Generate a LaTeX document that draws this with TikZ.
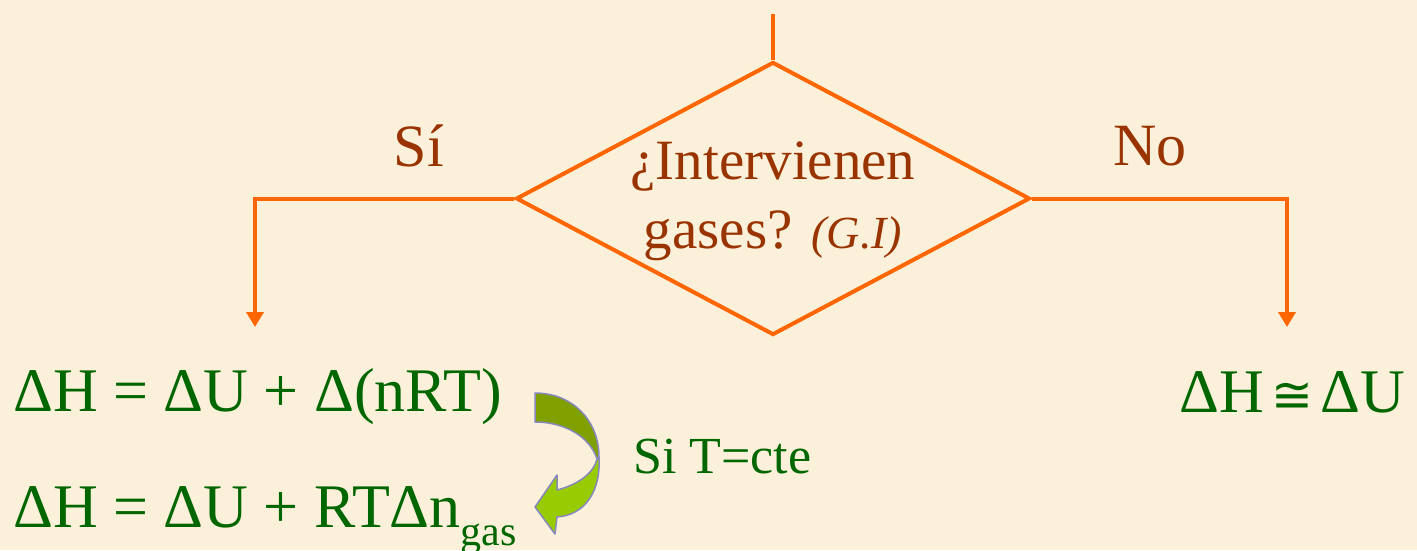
\documentclass[tikz,border=0pt]{standalone}
\usepackage{fontspec}
\setmainfont{Liberation Serif}
\newfontfamily\congfont{DejaVu Sans}
\usetikzlibrary{arrows.meta,shapes.geometric}
\definecolor{bg}{HTML}{FBF0D9}
\definecolor{flow}{HTML}{FF6600}
\definecolor{brownt}{HTML}{993300}
\definecolor{eqgreen}{HTML}{006600}
\definecolor{darkarr}{HTML}{80A000}
\definecolor{lightarr}{HTML}{99CC00}
\definecolor{arredge}{HTML}{8888C0}
\tikzset{
  flowline/.style={draw=flow, line width=4pt},
  flowarrow/.style={flowline, -{Triangle[width=17pt,length=15pt]}},
  decision/.style={diamond, draw=flow, line width=4pt, minimum width=514pt, minimum height=273pt, inner sep=0pt, shape aspect=1.88},
  brownlabel/.style={text=brownt, font=\fontsize{60}{60}\selectfont, inner sep=0pt},
  eqtext/.style={text=eqgreen, font=\fontsize{62}{62}\selectfont, inner sep=0pt},
  arrpart/.style={draw=arredge, line width=1.5pt, line join=round},
}
\begin{document}
\begin{tikzpicture}[x=1pt,y=-1pt]
\useasboundingbox (0,0) rectangle (1417,550);
\fill[bg] (0,0) rectangle (1417,550);

% decision
\node[decision] (q) at (773,198.5) {};
\node[text=brownt, align=center, inner sep=0pt, font=\fontsize{57}{69}\selectfont] (qt) at (773,201)
  {¿Intervienen\\gases? {\itshape\fontsize{46}{46}\selectfont (G.I)}};

\coordinate (top) at (773,14);
\coordinate (siend) at (255,327);
\coordinate (noend) at (1287,327);
\draw[flowline] (top) -- (q.north);
\draw[flowarrow] (q.west) -| (siend);
\draw[flowarrow] (q.east) -| (noend);

\node[brownlabel, anchor=base] (si) at (419,166) {Sí};
\node[brownlabel, anchor=base west] (no) at (1113,165) {No};

% equations
\node[eqtext, anchor=base west] (eq1) at (13,411) {ΔH = ΔU + Δ(nRT)};
\node[eqtext, anchor=base west] (eq2) at (13,527) {ΔH = ΔU + RTΔn\raisebox{-18pt}{\fontsize{42}{42}\selectfont gas}};
\node[eqtext, anchor=base east] (eq3) at (1405,412) {ΔH\hspace{7pt}{\congfont\fontsize{50}{50}\selectfont ≅}\hspace{7pt}ΔU};
\node[text=eqgreen, font=\fontsize{52}{52}\selectfont, inner sep=0pt, anchor=base west] (cond) at (633,473) {Si T=cte};

% curved arrow
\filldraw[arrpart, fill=darkarr] (535,393) .. controls (572,393) and (599,420) .. (599,457)
   -- (597,459) .. controls (590,437) and (565,422) .. (535,422) -- cycle;
\filldraw[arrpart, fill=lightarr] (599,457) .. controls (601,490) and (586,515) .. (557,517)
   -- (555,534) -- (535,507) -- (557,475) -- (557,490)
   .. controls (580,484) and (594,472) .. (597,459) -- cycle;
\end{tikzpicture}
\end{document}
